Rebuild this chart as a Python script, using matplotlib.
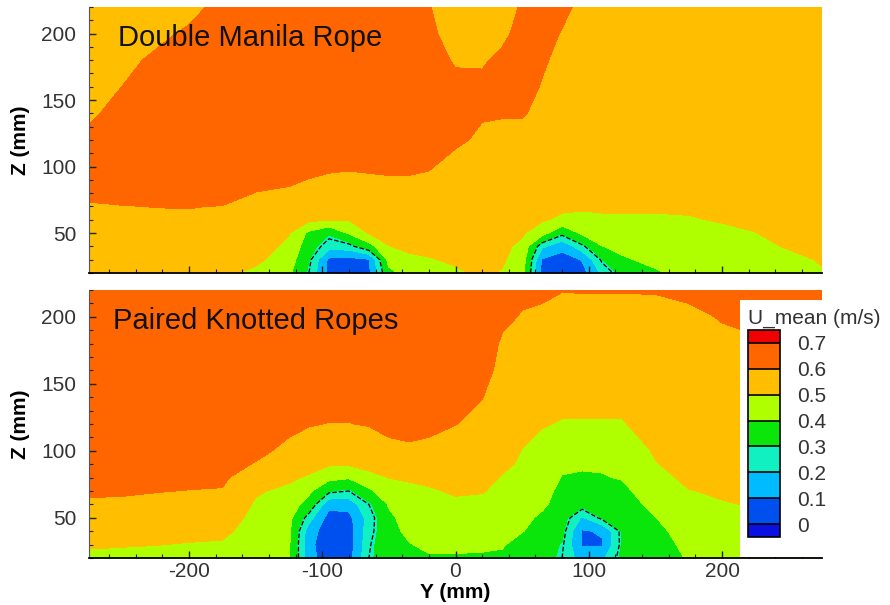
import numpy as np
import matplotlib
matplotlib.use("Agg")
from matplotlib import pyplot as plt
from matplotlib.colors import ListedColormap, BoundaryNorm
from matplotlib.patches import Rectangle
from matplotlib.ticker import MultipleLocator

plt.rcParams['font.family'] = ['Liberation Sans', 'DejaVu Sans']
plt.rcParams['axes.unicode_minus'] = False

# measuring grid (mm)
y_pos = [-275, -250, -225, -200, -175, -150, -125, -110, -95, -80, -65, -50, -35, -20,
         0, 20, 35, 50, 65, 80, 95, 110, 125, 150, 175, 200, 225, 250, 275]
z_pos = [20, 30, 40, 50, 60, 70, 80, 90, 100, 120, 140, 160, 180, 200, 220]

# U_mean (m/s), one list per Y position, bottom (Z=20) to top (Z=220)
u_manila = [
    [.55, .56, .57, .58, .59, .595, .61, .63, .64, .63, .58, .56, .55, .54, .53],      # -275
    [.55, .56, .57, .58, .59, .598, .62, .64, .65, .66, .64, .601, .57, .55, .54],     # -250
    [.55, .56, .57, .58, .59, .601, .63, .645, .655, .665, .67, .66, .62, .57, .55],   # -225
    [.55, .56, .57, .58, .59, .602, .63, .65, .66, .67, .675, .67, .66, .62, .56],     # -200
    [.52, .54, .56, .58, .59, .598, .63, .65, .66, .67, .68, .68, .675, .66, .64],     # -175
    [.48, .52, .545, .56, .575, .59, .598, .62, .64, .66, .67, .68, .68, .67, .66],    # -150
    [.42, .45, .48, .505, .53, .56, .59, .61, .63, .65, .67, .68, .68, .67, .66],      # -125
    [.28, .305, .34, .38, .52, .56, .58, .598, .62, .65, .67, .68, .68, .67, .66],     # -110
    [.07, .08, .24, .31, .505, .545, .57, .59, .61, .64, .66, .68, .68, .67, .66],     # -95
    [.05, .07, .25, .41, .505, .54, .56, .58, .61, .64, .66, .68, .68, .67, .66],      # -80
    [.08, .09, .36, .505, .52, .545, .565, .59, .61, .64, .66, .68, .68, .67, .66],    # -65
    [.37, .44, .497, .53, .55, .565, .58, .595, .61, .64, .66, .68, .68, .67, .66],    # -50
    [.44, .48, .52, .54, .555, .57, .58, .595, .61, .64, .66, .68, .68, .67, .66],     # -35
    [.46, .495, .52, .54, .55, .56, .57, .59, .605, .63, .65, .66, .64, .62, .605],    # -20
    [.49, .51, .53, .54, .55, .555, .56, .57, .58, .61, .63, .625, .59, .56, .55],     # 0
    [.51, .52, .53, .54, .545, .55, .555, .56, .57, .59, .605, .62, .59, .56, .55],    # 20
    [.495, .51, .52, .53, .54, .545, .55, .555, .56, .58, .605, .63, .62, .58, .56],   # 35
    [.44, .46, .48, .51, .53, .54, .55, .555, .56, .58, .605, .63, .64, .63, .61],     # 50
    [.06, .09, .22, .44, .51, .53, .54, .55, .56, .575, .585, .595, .61, .63, .63],    # 65
    [.04, .06, .13, .31, .48, .52, .53, .54, .545, .55, .56, .57, .58, .595, .62],     # 80
    [.06, .105, .26, .42, .48, .51, .52, .53, .535, .545, .55, .555, .56, .57, .58],   # 95
    [.22, .298, .398, .45, .49, .51, .52, .525, .53, .54, .545, .55, .555, .56, .57],  # 110
    [.33, .39, .42, .45, .49, .51, .52, .525, .53, .535, .54, .545, .55, .555, .56],   # 125
    [.39, .42, .45, .47, .49, .51, .52, .525, .53, .535, .54, .545, .55, .555, .56],   # 150
    [.43, .45, .47, .48, .495, .51, .52, .525, .53, .535, .54, .545, .55, .555, .56],  # 175
    [.44, .46, .47, .485, .505, .515, .52, .525, .53, .535, .54, .545, .55, .555, .56],  # 200
    [.45, .47, .485, .499, .51, .52, .525, .53, .535, .54, .545, .55, .555, .56, .565],  # 225
    [.46, .485, .505, .515, .52, .525, .53, .535, .54, .545, .55, .555, .56, .565, .57],  # 250
    [.495, .505, .515, .52, .525, .53, .535, .54, .545, .55, .555, .56, .565, .57, .575],  # 275
]

u_knotted = [
    [.48, .51, .53, .56, .59, .61, .63, .64, .65, .66, .67, .67, .67, .67, .67],       # -275
    [.48, .505, .53, .56, .585, .61, .63, .64, .65, .66, .67, .67, .67, .67, .67],     # -250
    [.47, .502, .53, .555, .58, .603, .625, .64, .65, .66, .67, .67, .67, .67, .67],   # -225
    [.46, .495, .525, .55, .575, .598, .62, .635, .65, .66, .67, .67, .67, .67, .67],  # -200
    [.45, .49, .52, .545, .57, .595, .615, .63, .645, .66, .67, .67, .67, .67, .67],   # -175
    [.42, .44, .46, .475, .49, .51, .545, .595, .62, .64, .66, .67, .67, .67, .67],    # -150
    [.41, .415, .42, .43, .45, .48, .515, .54, .58, .62, .64, .66, .67, .67, .67],     # -125
    [.14, .13, .15, .24, .36, .42, .49, .53, .56, .605, .635, .66, .67, .67, .67],     # -110
    [.04, .03, .04, .06, .13, .305, .43, .51, .545, .598, .63, .655, .67, .67, .67],   # -95
    [.06, .05, .05, .07, .14, .28, .41, .51, .545, .598, .63, .655, .67, .67, .67],    # -80
    [.28, .27, .25, .24, .28, .38, .47, .53, .55, .605, .635, .66, .67, .67, .67],     # -65
    [.36, .37, .37, .38, .41, .46, .502, .54, .59, .61, .64, .66, .67, .67, .67],      # -50
    [.38, .395, .42, .44, .46, .48, .51, .55, .59, .62, .645, .66, .67, .67, .67],     # -35
    [.39, .42, .44, .46, .475, .49, .52, .55, .585, .615, .64, .655, .66, .665, .67],  # -20
    [.39, .42, .445, .465, .485, .51, .53, .545, .56, .602, .63, .65, .66, .665, .67],  # 0
    [.385, .42, .44, .46, .48, .505, .525, .54, .55, .575, .602, .625, .645, .655, .66],  # 20
    [.38, .41, .43, .45, .465, .48, .495, .515, .53, .55, .565, .58, .59, .615, .63],  # 35
    [.33, .36, .405, .43, .45, .465, .48, .49, .498, .525, .545, .56, .575, .595, .615],  # 50
    [.34, .33, .35, .38, .42, .44, .455, .465, .475, .505, .53, .55, .57, .59, .61],   # 65
    [.28, .295, .32, .34, .355, .37, .395, .42, .445, .495, .52, .54, .56, .58, .602],  # 80
    [.15, .09, .09, .19, .33, .37, .39, .41, .44, .495, .52, .535, .55, .565, .605],   # 95
    [.18, .09, .11, .305, .35, .375, .395, .41, .44, .495, .52, .535, .55, .565, .605],  # 110
    [.32, .31, .31, .33, .35, .38, .405, .42, .44, .495, .52, .535, .55, .565, .605],  # 125
    [.34, .35, .37, .398, .43, .45, .47, .495, .51, .53, .545, .555, .565, .575, .605],  # 150
    [.41, .43, .45, .47, .485, .497, .52, .535, .545, .56, .57, .575, .58, .59, .61],  # 175
    [.43, .45, .465, .48, .495, .51, .525, .54, .55, .565, .575, .58, .59, .603, .62],  # 200
    [.44, .46, .475, .49, .505, .52, .53, .54, .55, .565, .575, .585, .595, .61, .63],  # 225
    [.45, .47, .485, .502, .515, .525, .535, .545, .555, .57, .58, .59, .595, .61, .63],  # 250
    [.46, .48, .495, .505, .52, .53, .54, .55, .56, .57, .58, .59, .595, .61, .63],    # 275
]

panel_titles = ['Double Manila Rope', 'Paired Knotted Ropes']
levels = [0, 0.1, 0.2, 0.3, 0.4, 0.5, 0.6, 0.7]
level_labels = ['0', '0.1', '0.2', '0.3', '0.4', '0.5', '0.6', '0.7']
dash_level = 0.28

band_colors = ['#0050f0', '#00bbff', '#10f0c0', '#0ae60a', '#b0ff00', '#ffbf00', '#ff6600']
cmap = ListedColormap(band_colors).with_extremes(under='#0a10e0', over='#f00000')
norm = BoundaryNorm(levels, len(band_colors))

fig = plt.figure(figsize=(8.9, 6.05), dpi=100)
ax_top = fig.add_axes([89 / 890, 1 - 273 / 605, 733 / 890, 266 / 605])
ax_bot = fig.add_axes([89 / 890, 1 - 558 / 605, 733 / 890, 268 / 605])

label_color = '#333333'
title_x = [0.040, 0.033]
for ax, u, title, tx in zip([ax_top, ax_bot], [u_manila, u_knotted], panel_titles, title_x):
    U = np.array(u).T
    cf = ax.contourf(y_pos, z_pos, U, levels=levels, cmap=cmap, norm=norm, extend='both')
    ax.contour(y_pos, z_pos, U, levels=[dash_level], colors='black',
               linewidths=0.9, linestyles='--')
    ax.set_xlim(-275, 275)
    ax.set_ylim(20, 220)
    ax.xaxis.set_major_locator(MultipleLocator(100))
    ax.xaxis.set_minor_locator(MultipleLocator(20))
    ax.yaxis.set_major_locator(MultipleLocator(50))
    ax.yaxis.set_minor_locator(MultipleLocator(10))
    ax.tick_params(which='both', direction='in', colors='#222222', labelcolor=label_color,
                   labelsize=15, top=False, right=False)
    ax.tick_params(which='major', length=5, width=1)
    ax.tick_params(which='minor', length=3, width=0.8)
    ax.tick_params(axis='y', pad=9)
    ax.tick_params(axis='x', pad=3)
    for side in ['top', 'right']:
        ax.spines[side].set_visible(False)
    ax.spines['bottom'].set_linewidth(1.3)
    ax.spines['left'].set_linewidth(0.8)
    ax.spines['left'].set_color('#555555')
    ax.set_ylabel('Z (mm)', fontsize=15, fontweight='bold', labelpad=8)
    ax.text(tx, 0.885, title, transform=ax.transAxes, fontsize=21,
            va='center', ha='left', color='#111111')

ax_top.tick_params(axis='x', labelbottom=False)
ax_bot.set_xlabel('Y (mm)', fontsize=15, fontweight='bold', labelpad=1)

# legend box
fig.patches.append(Rectangle((740 / 890, 1 - 557 / 605), 150 / 890, 257 / 605,
                             transform=fig.transFigure, facecolor='white',
                             edgecolor='none', zorder=1))
fig.text(748 / 890, 1 - 318 / 605, 'U_mean (m/s)', fontsize=15, color=label_color,
         ha='left', va='center', zorder=4)
cax = fig.add_axes([748 / 890, 1 - 537 / 605, 32 / 890, 207 / 605])
cax.set_zorder(3)
cbar = fig.colorbar(cf, cax=cax, extendrect=True, extendfrac=0.5 / 7, drawedges=True)
cbar.set_ticks(levels)
cbar.set_ticklabels(level_labels)
cbar.outline.set_linewidth(1.2)
cbar.dividers.set_color('black')
cbar.dividers.set_linewidth(1.2)
cax.tick_params(length=0, pad=12, labelsize=15, labelcolor=label_color)

plt.savefig('out.png', dpi=100)
